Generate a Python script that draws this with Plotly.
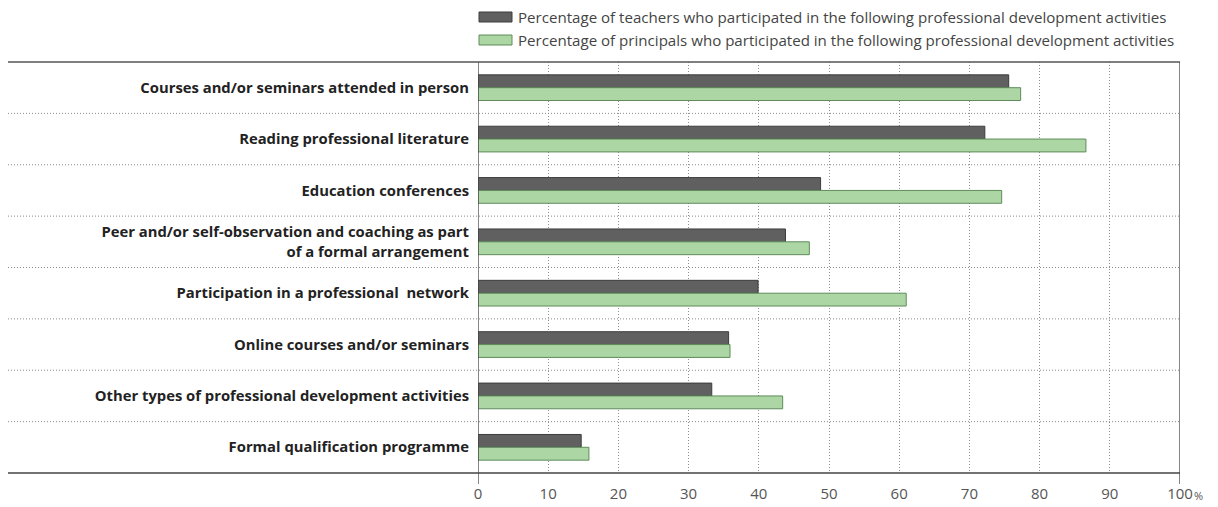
import plotly.graph_objects as go

categories = [
    "Courses and/or seminars attended in person",
    "Reading professional literature",
    "Education conferences",
    "Peer and/or self-observation and coaching as part<br>of a formal arrangement",
    "Participation in a professional  network",
    "Online courses and/or seminars",
    "Other types of professional development activities",
    "Formal qualification programme",
]
teachers = [75.6, 72.2, 48.8, 43.8, 39.9, 35.7, 33.3, 14.7]
principals = [77.3, 86.6, 74.6, 47.2, 61.0, 35.9, 43.4, 15.8]
series_names = [
    "Percentage of teachers who participated in the following professional development activities",
    "Percentage of principals who participated in the following professional development activities",
]
x_ticks = [0, 10, 20, 30, 40, 50, 60, 70, 80, 90, 100]

W, H = 1218, 507
ML, MR, MT, MB = 478, 38, 62, 34
PW = W - ML - MR
PH = H - MT - MB

def px_x(px):
    return (px - ML) / PW

def px_y(py):
    return (H - MB - py) / PH

dark_fill, dark_line = "#606060", "#3c3c3c"
green_fill, green_line = "#acd6a4", "#5f8c5a"
dots = "1px,2px"

fig = go.Figure()
fig.add_trace(go.Bar(y=categories, x=teachers, orientation="h", name=series_names[0],
                     marker=dict(color=dark_fill, line=dict(color=dark_line, width=1))))
fig.add_trace(go.Bar(y=categories, x=principals, orientation="h", name=series_names[1],
                     marker=dict(color=green_fill, line=dict(color=green_line, width=1))))

shapes = []
for i in range(len(categories) - 1):
    shapes.append(dict(type="line", xref="paper", yref="y", x0=px_x(8), x1=1,
                       y0=i + 0.5, y1=i + 0.5, line=dict(color="#8a8a8a", width=1, dash=dots)))
shapes.append(dict(type="line", xref="paper", yref="paper", x0=px_x(8), x1=1, y0=1, y1=1,
                   line=dict(color="#555555", width=1.5)))
shapes.append(dict(type="line", xref="paper", yref="paper", x0=px_x(8), x1=1, y0=0, y1=0,
                   line=dict(color="#444444", width=1.5)))
for xv in (x_ticks[0], x_ticks[-1]):
    shapes.append(dict(type="line", xref="x", yref="paper", x0=xv, x1=xv, y0=px_y(484), y1=1,
                       line=dict(color="#444444", width=1.3)))

annotations = []
for k, (name, fc, lc) in enumerate(zip(series_names, [dark_fill, green_fill], [dark_line, green_line])):
    cy = 17 + k * 23
    shapes.append(dict(type="rect", xref="paper", yref="paper", x0=px_x(479), x1=px_x(512),
                       y0=px_y(cy + 5), y1=px_y(cy - 5), fillcolor=fc, line=dict(color=lc, width=1)))
    annotations.append(dict(xref="paper", yref="paper", x=px_x(516), y=px_y(cy), text=name,
                            showarrow=False, xanchor="left", yanchor="middle",
                            font=dict(family="Open Sans", size=15.1, color="#444444")))
annotations.append(dict(xref="paper", yref="paper", x=px_x(1192), y=px_y(495), text="%",
                        showarrow=False, xanchor="left", yanchor="middle",
                        font=dict(family="Open Sans", size=11, color="#555555")))

fig.update_layout(
    width=W, height=H,
    margin=dict(l=ML, r=MR, t=MT, b=MB),
    paper_bgcolor="white", plot_bgcolor="white",
    barmode="group", bargap=0.5, bargroupgap=0,
    showlegend=False,
    shapes=shapes, annotations=annotations,
    xaxis=dict(range=[0, 100], tickvals=x_ticks, ticktext=[str(v) for v in x_ticks],
               showgrid=True, gridcolor="#8f8f8f", griddash=dots, gridwidth=1,
               zeroline=False, showline=False, ticks="", ticklabelstandoff=10,
               automargin=False,
               tickfont=dict(family="Open Sans", size=15, color="#555555")),
    yaxis=dict(autorange="reversed", showgrid=False, zeroline=False, showline=False,
               ticks="", ticklabelstandoff=8, automargin=False,
               tickfont=dict(family="Open Sans", size=14.8, color="#222222", weight="bold")),
)
fig.write_html("out.html", config={"displayModeBar": False},
               post_script="document.body.style.margin='0';")
